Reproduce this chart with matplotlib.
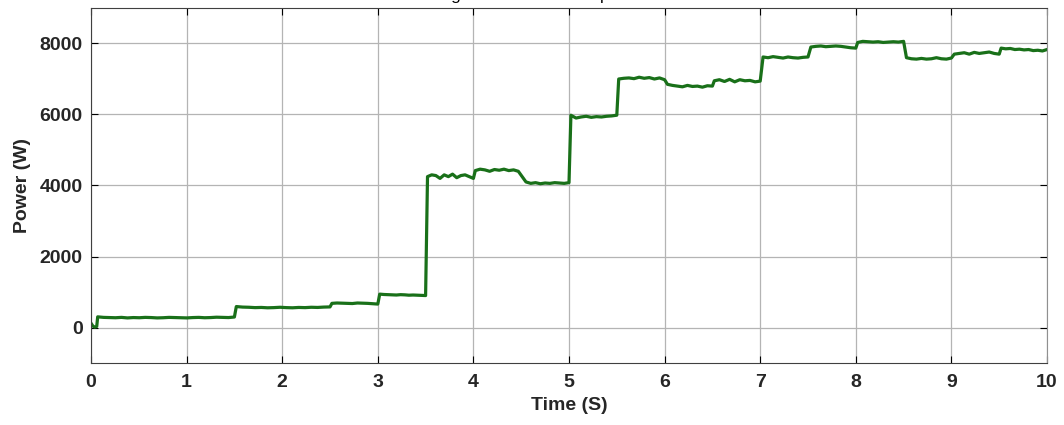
import numpy as np
import matplotlib.pyplot as plt

plt.rcParams['font.family'] = ['Liberation Sans', 'DejaVu Sans']

# segments of the power trace: (start time, end time, power values)
seg_t = [(0.0, 0.06), (0.07, 1.50), (1.52, 2.50), (2.52, 3.00), (3.02, 3.50),
         (3.52, 4.00), (4.02, 4.47), (4.55, 5.00), (5.02, 5.50), (5.52, 6.00),
         (6.03, 6.50), (6.52, 7.00), (7.03, 7.50), (7.53, 8.00), (8.02, 8.50),
         (8.53, 9.00), (9.03, 9.50), (9.52, 10.0)]
seg_p = [
    [120, 40, 10, 30],
    [300, 285, 280, 275, 285, 270, 280, 275, 285, 280, 270, 275, 285, 280, 275, 270, 280, 285, 275, 280, 290, 285, 280, 295],
    [590, 575, 570, 560, 565, 555, 560, 570, 560, 555, 565, 560, 570, 565, 575, 580],
    [680, 690, 685, 680, 675, 690, 685, 680, 670, 660],
    [940, 930, 925, 920, 915, 925, 920, 910, 915, 910, 905, 900],
    [4250, 4300, 4280, 4200, 4300, 4250, 4320, 4220, 4280, 4300, 4250, 4200],
    [4420, 4460, 4440, 4400, 4450, 4430, 4460, 4420, 4440, 4400],
    [4100, 4060, 4080, 4050, 4070, 4060, 4080, 4070, 4060, 4080],
    [5980, 5900, 5930, 5950, 5920, 5940, 5930, 5950, 5960, 5980],
    [7000, 7020, 7030, 7010, 7050, 7020, 7040, 7000, 7030, 6980],
    [6850, 6820, 6800, 6780, 6820, 6790, 6800, 6770, 6810, 6800],
    [6950, 6980, 6930, 6990, 6920, 6980, 6950, 6960, 6920, 6940],
    [7620, 7600, 7630, 7610, 7590, 7620, 7600, 7590, 7610, 7620],
    [7900, 7920, 7930, 7910, 7920, 7930, 7920, 7900, 7880, 7870],
    [8030, 8060, 8050, 8040, 8050, 8030, 8040, 8050, 8040, 8060],
    [7600, 7570, 7560, 7580, 7560, 7570, 7600, 7570, 7560, 7590],
    [7700, 7720, 7740, 7700, 7750, 7720, 7740, 7760, 7720, 7700],
    [7870, 7850, 7860, 7830, 7840, 7820, 7830, 7800, 7810, 7790, 7830],
]

t = []
p = []
for (a, b), vals in zip(seg_t, seg_p):
    t.extend(np.linspace(a, b, len(vals)))
    p.extend(vals)

fig = plt.figure(figsize=(10.64, 4.25), dpi=100)
ax = fig.add_axes([91/1064, 1-363/425, (1047-91)/1064, (363-8)/425])

ax.plot(t, p, color='#197019', lw=2.3)

ax.set_xlim(0, 10)
ax.set_ylim(-1000, 9000)
ax.set_xticks(range(0, 11))
ax.set_yticks([0, 2000, 4000, 6000, 8000])
ax.grid(True, color='#b4b4b4', lw=0.9)
ax.tick_params(direction='in', length=5, labelsize=14, width=0.8, top=True, right=True)
ax.tick_params(axis='x', pad=8)
ax.tick_params(axis='y', pad=6)
for lab in ax.get_xticklabels() + ax.get_yticklabels():
    lab.set_fontweight('bold')
    lab.set_color('#262626')
for s in ax.spines.values():
    s.set_color('#404040')
ax.spines['right'].set_color('#909090')

ax.set_xlabel('Time (S)', fontsize=14, fontweight='bold', color='#262626', labelpad=4)
ax.set_ylabel('Power (W)', fontsize=14, fontweight='bold', color='#262626', labelpad=6)

# title sits above the visible area, only its descenders show
fig.text(0.535, 1.0, 'Regulated inverter output at the load', ha='center', va='baseline', fontsize=12.5)

plt.savefig('out.png', dpi=100)
